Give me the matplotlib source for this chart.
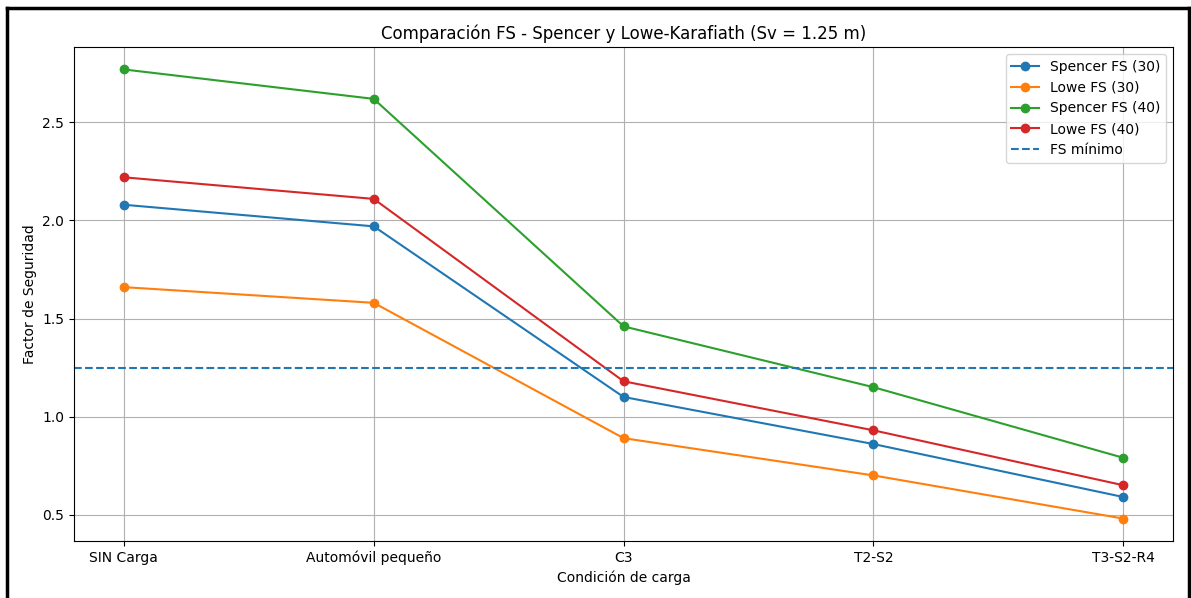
import matplotlib
matplotlib.use("Agg")
import matplotlib.pyplot as plt
from matplotlib.lines import Line2D

condiciones = ["SIN Carga", "Automóvil pequeño", "C3", "T2-S2", "T3-S2-R4"]
spencer_30 = [2.08, 1.97, 1.10, 0.86, 0.59]
lowe_30 = [1.66, 1.58, 0.89, 0.70, 0.48]
spencer_40 = [2.77, 2.62, 1.46, 1.15, 0.79]
lowe_40 = [2.22, 2.11, 1.18, 0.93, 0.65]
fs_minimo = 1.25

fig = plt.figure(figsize=(11.91, 5.98), dpi=100)
ax = fig.add_axes([0.0621, 0.0953, 0.9229, 0.8261])

ax.plot(condiciones, spencer_30, marker="o", label="Spencer FS (30)")
ax.plot(condiciones, lowe_30, marker="o", label="Lowe FS (30)")
ax.plot(condiciones, spencer_40, marker="o", label="Spencer FS (40)")
ax.plot(condiciones, lowe_40, marker="o", label="Lowe FS (40)")
ax.axhline(fs_minimo, linestyle="--", label="FS mínimo")

ax.set_title("Comparación FS - Spencer y Lowe-Karafiath (Sv = 1.25 m)", fontsize=12)
ax.set_xlabel("Condición de carga")
ax.set_ylabel("Factor de Seguridad")
ax.grid(True)
ax.legend(loc="upper right")

# outer frame around the figure
frame_kw = dict(color="black", linewidth=2.5, transform=fig.transFigure)
x0, x1, y1 = 7 / 1191, 1189 / 1191, 1 - 8 / 598
fig.add_artist(Line2D([x0, x1], [y1, y1], **frame_kw))
fig.add_artist(Line2D([x0, x0], [0, y1], **frame_kw))
fig.add_artist(Line2D([x1, x1], [0, y1], **frame_kw))

fig.savefig("out.png", dpi=100)
